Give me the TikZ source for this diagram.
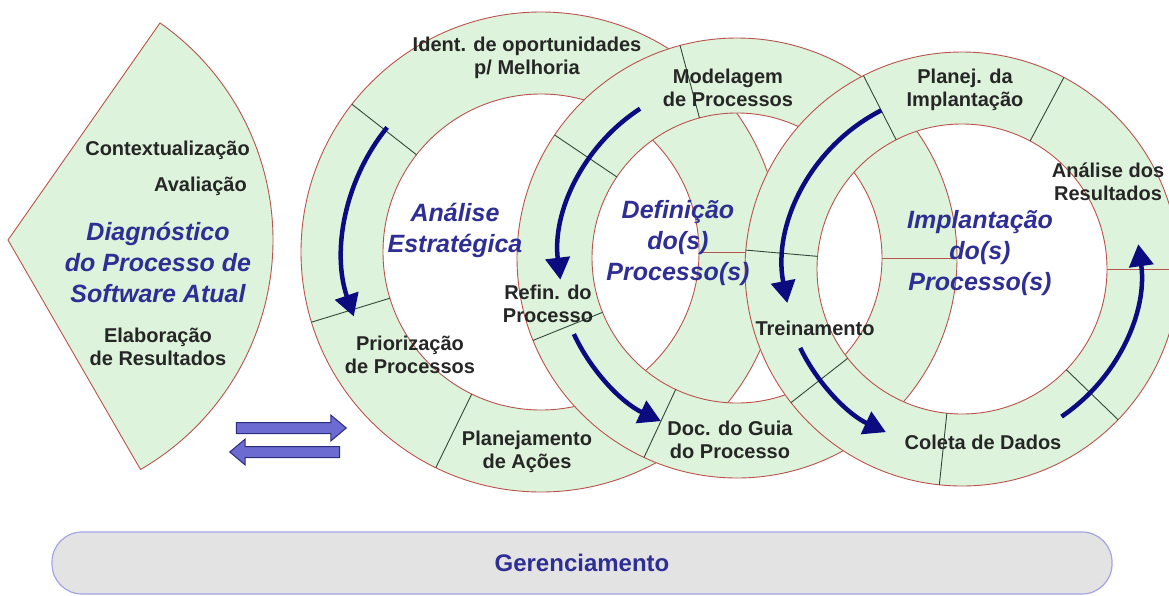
\documentclass[tikz,border=0pt]{standalone}
\usepackage{fontspec}
\setmainfont{Liberation Sans}
\usepackage{xcolor}
\usepackage{tikz}
\usetikzlibrary{arrows.meta,shapes.arrows}

\definecolor{ringfill}{HTML}{DDF3DB}
\definecolor{ringline}{HTML}{B9534D}
\definecolor{sepline}{HTML}{34483A}
\definecolor{flownavy}{HTML}{0C0C80}
\definecolor{titleblue}{HTML}{2E2E94}
\definecolor{arrowfill}{HTML}{6B6BD2}
\definecolor{arrowline}{HTML}{2C2C7C}
\definecolor{pillfill}{HTML}{E3E3E3}
\definecolor{pillline}{HTML}{A4A4E2}

\begin{document}
\begin{tikzpicture}[x=1pt, y=1pt,
  ring/.style={draw=ringline, line width=0.9pt, fill=ringfill, even odd rule},
  sep/.style={draw=sepline, line width=0.9pt},
  redsep/.style={draw=ringline, line width=0.9pt},
  flow/.style={draw=flownavy, line width=4.5pt, -{Triangle[length=22pt, width=24pt]}},
  lbl/.style={align=center, font=\fontsize{20}{23.5}\selectfont\bfseries, text=black!85, inner sep=0pt},
  ttl/.style={align=center, font=\fontsize{25}{31}\selectfont\bfseries\itshape, text=titleblue, inner sep=0pt},
  blockarrow/.style={single arrow, draw=arrowline, fill=arrowfill, line width=1pt, minimum height=110pt, minimum width=25pt, single arrow head extend=7.5pt, single arrow tip angle=80, inner sep=5pt},
  pill/.style={draw=pillline, line width=1.2pt, fill=pillfill, rounded corners=30pt, minimum width=1060pt, minimum height=62pt, font=\fontsize{24}{28}\selectfont\bfseries, text=titleblue}
]
\useasboundingbox (0,0) rectangle (1169,-595);
\coordinate (dg) at (8,-240);
\coordinate (c1) at (541,-252);
\coordinate (c2) at (737,-258);
\coordinate (c3) at (962,-269);
% diagnostico sector
\draw[ring] (dg) -- ([shift={(-60:265)}]dg) arc[start angle=-60, end angle=55, radius=265] -- cycle;
% ring 1, then ring 2 and ring 3 laid over it
\draw[ring] (c1) circle[radius=240] (c1) circle[radius=158];
\foreach \a in {142,197,244} \draw[sep] ([shift={(\a:158)}]c1) -- ([shift={(\a:240)}]c1);
\draw[redsep] ([shift={(0:158)}]c1) -- ([shift={(0:240)}]c1);
\draw[ring] (c2) circle[radius=220] (c2) circle[radius=145];
\foreach \a in {105,146,202,245} \draw[sep] ([shift={(\a:145)}]c2) -- ([shift={(\a:220)}]c2);
\draw[redsep] ([shift={(0:145)}]c2) -- ([shift={(0:220)}]c2);
\draw[ring] (c3) circle[radius=217] (c3) circle[radius=145];
\foreach \a in {62,117,175,218,264,316} \draw[sep] ([shift={(\a:145)}]c3) -- ([shift={(\a:217)}]c3);
\draw[redsep] ([shift={(0:145)}]c3) -- ([shift={(0:217)}]c3);
% cycle arrows
\draw[flow] ([shift={(141:198)}]c1) arc[start angle=141, end angle=199, radius=198];
\draw[flow] ([shift={(123:178)}]c2) arc[start angle=123, end angle=187, radius=178];
\draw[flow] ([shift={(205:180)}]c2) arc[start angle=205, end angle=245, radius=180];
\draw[flow] ([shift={(117:178)}]c3) arc[start angle=117, end angle=191, radius=178];
\draw[flow] ([shift={(206:180)}]c3) arc[start angle=206, end angle=245, radius=180];
\draw[flow] ([shift={(-56:178)}]c3) arc[start angle=-56, end angle=8, radius=178];
% labels
\node[lbl, anchor=east] (ctx) at (250,-150) {Contextualização};
\node[lbl, anchor=east] (aval) at (247,-186) {Avaliação};
\node[ttl] (diag) at (158,-262) {Diagnóstico\\do Processo de\\Software Atual};
\node[lbl] (elab) at (158,-347) {Elaboração\\de Resultados};
\node[lbl] (ident) at (527,-58) {Ident. de oportunidades\\p/ Melhoria};
\node[ttl] (anest) at (455,-230) {Análise\\Estratégica};
\node[lbl] (prior) at (410,-355) {Priorização\\de Processos};
\node[lbl] (placoes) at (527,-452) {Planejamento\\de Ações};
\node[lbl] (model) at (728,-88) {Modelagem\\de Processos};
\node[ttl] (defin) at (678,-243) {Definição\\do(s)\\Processo(s)};
\node[lbl] (refin) at (548,-304) {Refin. do\\Processo};
\node[lbl] (docguia) at (730,-440) {Doc. do Guia\\do Processo};
\node[lbl] (planimp) at (965,-90) {Planej. da\\Implantação};
\node[lbl] (anres) at (1108,-182) {Análise dos\\Resultados};
\node[ttl] (implant) at (980,-253) {Implantação\\do(s)\\Processo(s)};
\node[lbl] (trein) at (815,-328) {Treinamento};
\node[lbl] (coleta) at (983,-442) {Coleta de Dados};
% exchange arrows and management bar
\node[blockarrow] (fwd) at (288,-428) {};
\node[blockarrow, shape border rotate=180] (bwd) at (288,-452) {};
\node[pill] (ger) at (582,-563) {Gerenciamento};
\end{tikzpicture}
\end{document}
